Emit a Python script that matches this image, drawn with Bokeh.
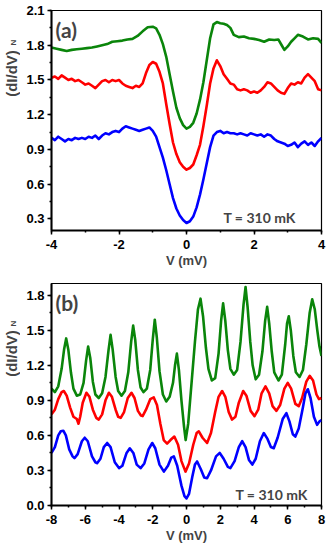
import math
from bokeh.plotting import figure
from bokeh.models import Range1d, SingleIntervalTicker, PrintfTickFormatter, Label
from bokeh.layouts import column, row
from bokeh.embed import file_html
from bokeh.resources import INLINE

# ---------------- Panel (a) data ----------------
a_green_v = [-4.0, -3.85, -3.7, -3.55, -3.4, -3.25, -3.1, -2.95, -2.8, -2.65, -2.5, -2.35, -2.2, -2.05,
             -1.9, -1.75, -1.6, -1.45, -1.3, -1.15, -1.0, -0.9, -0.8, -0.7, -0.6, -0.5, -0.4, -0.3,
             -0.2, -0.1, 0.0, 0.1, 0.2, 0.3, 0.4, 0.5, 0.6, 0.7, 0.8, 0.9, 1.0, 1.1, 1.2, 1.3, 1.4,
             1.55, 1.7, 1.85, 2.0, 2.15, 2.3, 2.45, 2.6, 2.72, 2.82, 2.9, 3.0, 3.1, 3.2, 3.3, 3.45,
             3.6, 3.75, 3.9, 4.0]
a_green_g = [1.78, 1.77, 1.76, 1.75, 1.76, 1.765, 1.77, 1.775, 1.78, 1.79, 1.80, 1.81, 1.83, 1.835,
             1.84, 1.85, 1.855, 1.88, 1.92, 1.955, 1.96, 1.945, 1.89, 1.81, 1.70, 1.55, 1.40, 1.26,
             1.17, 1.11, 1.08, 1.095, 1.13, 1.21, 1.33, 1.48, 1.67, 1.86, 1.98, 2.00, 1.99, 1.985,
             1.975, 1.95, 1.89, 1.87, 1.875, 1.86, 1.855, 1.845, 1.83, 1.85, 1.845, 1.85, 1.80, 1.76,
             1.79, 1.83, 1.86, 1.89, 1.875, 1.85, 1.86, 1.855, 1.82]

a_v = [-4.0, -3.9, -3.8, -3.7, -3.6, -3.5, -3.4, -3.3, -3.2, -3.1, -3.0, -2.9, -2.8, -2.7, -2.6,
       -2.5, -2.4, -2.3, -2.2, -2.1, -2.0, -1.9, -1.8, -1.7, -1.6, -1.5, -1.4, -1.3, -1.2, -1.1,
       -1.0, -0.9, -0.8, -0.7, -0.6, -0.5, -0.4, -0.3, -0.2, -0.1, 0.0, 0.1, 0.2, 0.3, 0.4, 0.5,
       0.6, 0.7, 0.8, 0.9, 1.0, 1.1, 1.2, 1.3, 1.4, 1.5, 1.6, 1.7, 1.8, 1.9, 2.0, 2.1, 2.2, 2.3,
       2.4, 2.5, 2.6, 2.7, 2.8, 2.9, 3.0, 3.1, 3.2, 3.3, 3.4, 3.5, 3.6, 3.7, 3.8, 3.9, 4.0]
a_red_g = [1.52, 1.53, 1.51, 1.54, 1.52, 1.50, 1.51, 1.49, 1.50, 1.48, 1.46, 1.47, 1.45, 1.43, 1.46,
           1.49, 1.50, 1.48, 1.50, 1.49, 1.50, 1.47, 1.45, 1.44, 1.43, 1.45, 1.44, 1.47, 1.56, 1.63,
           1.655, 1.64, 1.57, 1.47, 1.29, 1.12, 0.96, 0.86, 0.79, 0.75, 0.725, 0.74, 0.77, 0.85,
           0.94, 1.10, 1.28, 1.47, 1.60, 1.67, 1.62, 1.55, 1.51, 1.47, 1.46, 1.42, 1.41, 1.42, 1.41,
           1.39, 1.40, 1.39, 1.41, 1.44, 1.48, 1.47, 1.44, 1.41, 1.39, 1.38, 1.43, 1.47, 1.46, 1.48,
           1.47, 1.52, 1.55, 1.52, 1.49, 1.42, 1.41]
a_blue_g = [1.00, 0.98, 1.01, 0.99, 0.97, 0.99, 0.98, 1.00, 0.99, 1.00, 0.99, 1.01, 1.00, 1.02, 0.99,
            1.02, 1.04, 1.03, 1.05, 1.06, 1.05, 1.08, 1.10, 1.09, 1.08, 1.07, 1.06, 1.07, 1.08, 1.09,
            1.06, 1.01, 0.92, 0.83, 0.72, 0.60, 0.48, 0.39, 0.33, 0.29, 0.265, 0.28, 0.32, 0.40, 0.51,
            0.64, 0.78, 0.92, 1.02, 1.05, 1.06, 1.04, 1.05, 1.04, 1.04, 1.03, 1.04, 1.03, 1.02, 1.04,
            1.03, 1.02, 1.03, 1.01, 1.03, 1.02, 0.99, 0.97, 0.96, 0.95, 0.93, 0.94, 0.96, 0.92, 0.95,
            0.97, 0.94, 0.96, 0.93, 0.97, 1.00]

# ---------------- Panel (b) data ----------------
b_green_v = [-8.0, -7.8, -7.6, -7.4, -7.25, -7.13, -7.0, -6.85, -6.7, -6.5, -6.3, -6.1, -5.95, -5.83,
             -5.7, -5.55, -5.4, -5.2, -5.0, -4.8, -4.62, -4.5, -4.38, -4.2, -4.05, -3.85, -3.65,
             -3.45, -3.28, -3.16, -3.04, -2.88, -2.72, -2.55, -2.35, -2.15, -2.0, -1.88, -1.76, -1.6,
             -1.4, -1.2, -1.0, -0.8, -0.68, -0.57, -0.45, -0.3, -0.15, -0.05, 0.1, 0.3, 0.5, 0.68,
             0.83, 0.98, 1.15, 1.3, 1.5, 1.7, 1.9, 2.05, 2.17, 2.3, 2.45, 2.6, 2.8, 3.0, 3.2, 3.38,
             3.5, 3.62, 3.78, 3.92, 4.1, 4.3, 4.5, 4.66, 4.78, 4.9, 5.05, 5.2, 5.45, 5.65, 5.85, 5.96,
             6.06, 6.18, 6.33, 6.48, 6.7, 6.9, 7.1, 7.3, 7.45, 7.6, 7.75, 7.88, 8.0]
b_green_g = [1.00, 0.97, 1.02, 1.17, 1.34, 1.43, 1.33, 1.14, 1.00, 0.94, 0.95, 1.05, 1.24, 1.36,
             1.26, 1.06, 0.95, 0.92, 0.96, 1.10, 1.33, 1.46, 1.34, 1.10, 0.98, 0.94, 0.98,
             1.14, 1.40, 1.54, 1.42, 1.16, 1.01, 0.97, 1.00, 1.16, 1.42, 1.59, 1.44, 1.15,
             0.95, 0.89, 0.93, 1.05, 1.20, 1.30, 1.16, 0.90, 0.68, 0.56, 0.70, 1.05, 1.40, 1.68,
             1.77, 1.62, 1.35, 1.17, 1.07, 1.09, 1.30, 1.58, 1.73, 1.58, 1.33, 1.17, 1.12, 1.16, 1.40,
             1.72, 1.87, 1.70, 1.40, 1.20, 1.08, 1.12, 1.32, 1.58, 1.70, 1.56, 1.32, 1.14, 1.07, 1.12,
             1.38, 1.56, 1.62, 1.50, 1.28, 1.14, 1.10, 1.16, 1.38, 1.65, 1.765, 1.68, 1.50, 1.36, 1.28]

b_red_v = [-8.0, -7.8, -7.6, -7.4, -7.27, -7.1, -6.9, -6.7, -6.5, -6.4, -6.3, -6.15, -5.93, -5.75,
           -5.55, -5.35, -5.2, -5.0, -4.8, -4.6, -4.42, -4.2, -4.05, -3.9, -3.7, -3.48, -3.26, -3.08,
           -2.88, -2.7, -2.6, -2.4, -2.15, -1.94, -1.75, -1.55, -1.35, -1.15, -0.95, -0.72, -0.5,
           -0.3, -0.06, 0.15, 0.4, 0.6, 0.73, 0.95, 1.22, 1.45, 1.7, 1.9, 2.11, 2.3, 2.5, 2.7, 2.9,
           3.1, 3.36, 3.55, 3.8, 4.03, 4.25, 4.45, 4.68, 4.9, 5.1, 5.33, 5.55, 5.8, 6.0, 6.2, 6.45,
           6.65, 6.85, 7.1, 7.3, 7.5, 7.7, 7.85, 8.0]
b_red_g = [0.78, 0.82, 0.91, 0.97, 0.98, 0.94, 0.84, 0.76, 0.74, 0.70, 0.76, 0.88, 0.965, 0.93,
           0.82, 0.75, 0.735, 0.78, 0.90, 0.965, 0.93, 0.82, 0.76, 0.75, 0.80, 0.92, 0.965, 0.92,
           0.81, 0.77, 0.765, 0.82, 0.91, 0.925, 0.86, 0.70, 0.56, 0.53, 0.56, 0.59, 0.52,
           0.38, 0.29, 0.36, 0.52, 0.62, 0.635, 0.58, 0.535, 0.62, 0.80, 0.93, 0.98, 0.93, 0.80, 0.735,
           0.76, 0.88, 0.98, 0.94, 0.81, 0.765, 0.82, 0.96, 1.02, 0.96, 0.85, 0.81, 0.86, 1.00, 1.05,
           1.00, 0.87, 0.85, 0.92, 1.06, 1.11, 1.07, 0.95, 0.91, 0.92]

b_blue_v = [-8.0, -7.8, -7.6, -7.45, -7.3, -7.15, -6.95, -6.75, -6.64, -6.45, -6.2, -6.03, -5.85, -5.6,
            -5.4, -5.3, -5.1, -4.9, -4.7, -4.5, -4.25, -4.0, -3.8, -3.55, -3.36, -3.15, -2.95, -2.72,
            -2.5, -2.25, -2.03, -1.85, -1.6, -1.34, -1.1, -0.9, -0.75, -0.55, -0.3, -0.12, 0.0, 0.15,
            0.35, 0.5, 0.63, 0.85, 1.05, 1.22, 1.45, 1.75, 1.97, 2.2, 2.45, 2.6, 2.85, 3.1, 3.3, 3.5,
            3.7, 3.9, 4.1, 4.35, 4.58, 4.8, 5.0, 5.17, 5.4, 5.7, 5.92, 6.1, 6.3, 6.45, 6.65, 6.9, 7.05,
            7.19, 7.35, 7.55, 7.74, 7.88, 8.0]
b_blue_g = [0.45, 0.50, 0.60, 0.635, 0.64, 0.60, 0.48, 0.42, 0.405, 0.44, 0.55, 0.58, 0.55, 0.42,
            0.37, 0.362, 0.40, 0.50, 0.535, 0.50, 0.37, 0.32, 0.34, 0.45, 0.49, 0.45, 0.35, 0.32,
            0.36, 0.48, 0.535, 0.49, 0.35, 0.29, 0.34, 0.41, 0.42, 0.34, 0.17, 0.08, 0.06, 0.10,
            0.25, 0.35, 0.377, 0.31, 0.24, 0.233, 0.30, 0.42, 0.45, 0.40, 0.33, 0.32, 0.38, 0.50, 0.55,
            0.50, 0.39, 0.35, 0.40, 0.55, 0.62, 0.57, 0.50, 0.49, 0.58, 0.74, 0.79, 0.72, 0.61, 0.59,
            0.66, 0.84, 0.96, 0.995, 0.92, 0.76, 0.69, 0.72, 0.73]

GREEN = "#0a850a"
RED = "#ff0000"
BLUE = "#0000ff"
AXFONT = "Liberation Sans"
LBLFONT = "Lato"
LABW = 20


def ylabel_fig(height, y_main, y_sub):
    f = figure(width=LABW, height=height, output_backend="svg", toolbar_location=None,
               x_range=Range1d(0, 1), y_range=Range1d(0, 1),
               x_axis_type=None, y_axis_type=None, min_border=0)
    f.outline_line_color = None
    f.grid.visible = False
    f.add_layout(Label(x=11, y=y_main, x_units="screen", y_units="screen",
                       text="(dI/dV)", angle=math.pi / 2, text_font=AXFONT,
                       text_font_style="bold", text_font_size="15px",
                       text_baseline="middle", text_align="center"))
    f.add_layout(Label(x=13, y=y_sub, x_units="screen", y_units="screen",
                       text="N", angle=math.pi / 2, text_font=AXFONT,
                       text_font_style="bold", text_font_size="8px",
                       text_baseline="middle", text_align="center"))
    return f


def panel(height, xr, yr, border_top, border_bottom, tag, series):
    frame_h = height - border_top - border_bottom
    p = figure(width=332 - LABW, height=height, output_backend="svg", toolbar_location=None,
               x_range=Range1d(*xr), y_range=Range1d(*yr),
               min_border_left=51 - LABW, min_border_right=11,
               min_border_top=border_top, min_border_bottom=border_bottom)
    p.grid.visible = False
    p.background_fill_color = "white"
    p.border_fill_color = "white"
    p.outline_line_color = "black"
    p.outline_line_width = 1.2
    for ax in (p.xaxis, p.yaxis):
        ax.axis_line_width = 2
        ax.axis_line_color = "black"
        ax.major_tick_in = 0
        ax.major_tick_out = 4
        ax.minor_tick_in = 0
        ax.minor_tick_out = 2
        ax.major_tick_line_width = 1.5
        ax.minor_tick_line_width = 1.5
        ax.major_label_text_font = AXFONT
        ax.major_label_text_font_style = "bold"
        ax.major_label_text_font_size = "13px"
        ax.major_label_text_color = "black"
    p.xaxis.ticker = SingleIntervalTicker(interval=2, num_minor_ticks=2)
    p.xaxis.formatter = PrintfTickFormatter(format="%d")
    p.yaxis.ticker = SingleIntervalTicker(interval=0.3, num_minor_ticks=2)
    p.yaxis.formatter = PrintfTickFormatter(format="%.1f")
    p.yaxis.major_label_standoff = 3
    p.xaxis.major_label_standoff = 5
    p.xaxis.axis_label = "V (mV)"
    p.xaxis.axis_label_text_font = AXFONT
    p.xaxis.axis_label_text_font_style = "bold"
    p.xaxis.axis_label_text_font_size = "13px"
    p.xaxis.axis_label_standoff = 1

    for xs, ys, c in series:
        p.line(xs, ys, line_color=c, line_width=2.6, line_join="round")

    p.add_layout(Label(x=4, y=frame_h - 6, x_units="screen", y_units="screen",
                       text=tag, text_font=LBLFONT, text_font_style="bold",
                       text_font_size="21px", text_baseline="top"))
    return p, frame_h


HA, HB = 270, 277
pa, fha = panel(HA, (-4, 4), (0.2, 2.1), 10, 40, "(a)",
                [(a_green_v, a_green_g, GREEN), (a_v, a_red_g, RED), (a_v, a_blue_g, BLUE)])
pa.add_layout(Label(x=172, y=13, x_units="screen", y_units="screen", text="T = 310 mK",
                    text_font=LBLFONT, text_font_style="bold", text_font_size="14px",
                    text_baseline="alphabetic"))
la = ylabel_fig(HA, HA - 113, HA - 82)

pb, fhb = panel(HB, (-8, 8), (0.0, 1.9), 13, 42, "(b)",
                [(b_green_v, b_green_g, GREEN), (b_red_v, b_red_g, RED), (b_blue_v, b_blue_g, BLUE)])
pb.add_layout(Label(x=184, y=11, x_units="screen", y_units="screen", text="T = 310 mK",
                    text_font=LBLFONT, text_font_style="bold", text_font_size="14px",
                    text_baseline="alphabetic"))
lb = ylabel_fig(HB, HB - 125, HB - 95)

layout = column(row(la, pa, spacing=0), row(lb, pb, spacing=0), spacing=0)
open("out.html", "w").write(file_html(layout, INLINE))
